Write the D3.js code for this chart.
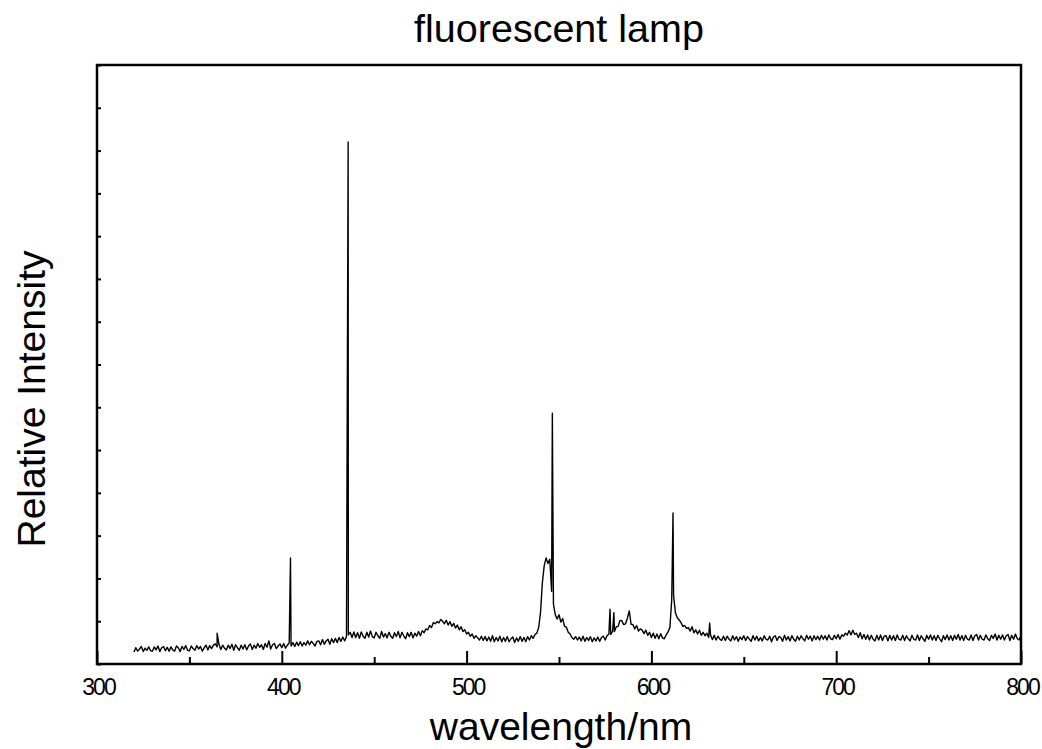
<!DOCTYPE html>
<html>
<head>
<meta charset="utf-8">
<script src="https://cdn.jsdelivr.net/npm/d3@7"></script>
<style>
  body { margin: 0; background: #fff; }
  svg { display: block; font-family: "Liberation Sans", Arial, sans-serif; }
</style>
</head>
<body>
<svg id="chart" width="1042" height="749"></svg>
<script>
// Spectrum: one value per nm from 320 to 800 (arbitrary counts)
const baseStart = 320;
const baseline = [
  280, 380, 300, 350, 410, 290, 370, 320, 400, 310,   // 320
  300, 400, 330, 420, 290, 380, 410, 310, 390, 300,   // 330
  400, 330, 300, 420, 380, 290, 410, 340, 430, 320,   // 340
  310, 420, 360, 320, 430, 350, 410, 300, 380, 440,   // 350
  330, 430, 360, 440, 470, 400, 460, 340, 440, 370,   // 360
  330, 440, 360, 460, 320, 450, 380, 320, 440, 350,   // 370
  450, 330, 420, 470, 340, 440, 370, 480, 390, 450,   // 380
  340, 480, 390, 540, 350, 450, 480, 360, 420, 470,   // 390
  380, 480, 370, 440, 490, 420, 500, 410, 510, 430,   // 400
  520, 420, 500, 440, 540, 450, 530, 480, 420, 530,   // 410
  540, 450, 570, 460, 540, 580, 460, 590, 500, 600,   // 420
  500, 620, 530, 630, 540, 640, 680, 740, 620, 750,   // 430
  620, 730, 600, 750, 650, 600, 740, 630, 770, 640,   // 440
  610, 740, 660, 600, 760, 630, 710, 610, 740, 650,   // 450
  600, 730, 640, 760, 610, 740, 660, 590, 730, 640,   // 460
  740, 610, 720, 650, 760, 660, 780, 730, 820, 800,   // 470
  900, 850, 970, 940, 990, 960, 1040, 1000, 940, 1020, // 480
  910, 990, 880, 950, 840, 910, 800, 870, 760, 800,   // 490
  700, 740, 650, 700, 600, 660, 610, 560, 650, 550,   // 500
  640, 540, 630, 530, 660, 520, 620, 540, 650, 520,   // 510
  620, 530, 640, 520, 590, 630, 500, 610, 530, 640,   // 520
  530, 620, 520, 640, 560, 660, 600, 690, 720, 850,   // 530
  1200, 1900, 2300, 2480, 2350, 2450, 1700, 1400, 1150, 1050, // 540
  1150, 980, 1060, 880, 860, 740, 700, 620, 580, 640, // 550
  560, 630, 540, 650, 530, 620, 550, 640, 520, 610,   // 560
  540, 630, 530, 620, 650, 560, 660, 700, 690, 760,   // 570
  760, 870, 880, 1020, 1010, 920, 940, 1070, 1240, 930, // 580
  920, 820, 900, 770, 820, 790, 710, 790, 670, 740,   // 590
  620, 720, 600, 700, 590, 710, 610, 590, 680, 750,   // 600
  850, 1500, 1600, 1200, 1080, 1030, 970, 880, 900, 830, // 610
  850, 770, 870, 730, 800, 700, 790, 670, 740, 660,   // 620
  720, 620, 680, 570, 670, 560, 650, 580, 550, 650,   // 630
  550, 650, 580, 540, 660, 560, 640, 530, 630, 570,   // 640
  660, 550, 640, 580, 530, 660, 560, 650, 540, 620,   // 650
  540, 660, 580, 560, 650, 520, 630, 660, 550, 640,   // 660
  620, 530, 670, 560, 640, 540, 660, 580, 530, 650,   // 670
  560, 660, 590, 540, 670, 580, 650, 540, 660, 570,   // 680
  650, 560, 670, 580, 660, 560, 680, 590, 570, 670,   // 690
  590, 690, 580, 680, 650, 720, 680, 780, 680, 790,   // 700
  690, 720, 620, 730, 590, 690, 580, 680, 560, 670,   // 710
  580, 540, 670, 560, 680, 550, 650, 660, 540, 670,   // 720
  560, 660, 550, 680, 580, 560, 670, 550, 660, 590,   // 730
  540, 670, 580, 560, 680, 550, 660, 590, 530, 670,   // 740
  580, 680, 560, 660, 550, 670, 590, 520, 660, 570,   // 750
  680, 560, 660, 550, 670, 580, 690, 560, 660, 550,   // 760
  670, 580, 560, 680, 550, 660, 690, 560, 670, 580,   // 770
  560, 680, 590, 550, 670, 600, 700, 560, 670, 580,   // 780
  680, 560, 660, 690, 550, 670, 580, 700, 590, 560,   // 790
  660                                                 // 800
];

// Sharp emission lines (wavelength, peak counts)
const lineWavelengths = [365.0, 404.7, 435.9, 546.4, 577.6, 579.7, 611.7, 631.5];
const linePeaks = [720, 2480, 12200, 5860, 1280, 1200, 3530, 960];

const xTicks = [300, 400, 500, 600, 700, 800];
const xMinorTicks = [350, 450, 550, 650, 750];
const yTicks = d3.range(0, 14001, 1000);

const margin = { top: 65, right: 21, bottom: 85, left: 97 };
const svg = d3.select("#chart");
const width = 1042 - margin.left - margin.right;
const height = 749 - margin.top - margin.bottom;

const g = svg.append("g").attr("transform", `translate(${margin.left},${margin.top})`);

// Merge baseline points and line apexes
const points = baseline.map((v, i) => ({ w: baseStart + i, v: v }))
  .concat(lineWavelengths.map((w, i) => ({ w: w, v: linePeaks[i] })))
  .sort((a, b) => a.w - b.w);

// Scales
const x = d3.scaleLinear().domain([300, 800]).range([0, width]);
const y = d3.scaleLinear().domain([0, 14000]).range([height, 0]);

// Spectrum
g.append("path")
  .datum(points)
  .attr("fill", "none")
  .attr("stroke", "#000")
  .attr("stroke-width", 1.4)
  .attr("stroke-linejoin", "round")
  .attr("d", d3.line().x(d => x(d.w)).y(d => y(d.v)));

// Minor x ticks
g.append("g")
  .attr("transform", `translate(0,${height})`)
  .call(d3.axisBottom(x).tickValues(xMinorTicks).tickSize(-7).tickFormat(""))
  .call(a => a.select(".domain").remove())
  .call(a => a.selectAll("line").attr("stroke-width", 2));

// Major x ticks and labels
const xAxis = g.append("g")
  .attr("transform", `translate(0,${height})`)
  .call(d3.axisBottom(x).tickValues(xTicks).tickSize(-13).tickFormat(d3.format("d")));
xAxis.select(".domain").remove();
xAxis.selectAll("line").attr("stroke-width", 2);
xAxis.selectAll("text")
  .attr("y", 31)
  .attr("dy", 0)
  .attr("x", 1)
  .attr("fill", "#000")
  .style("font-family", "'Liberation Sans', Arial, sans-serif")
  .style("font-size", "23px")
  .style("letter-spacing", "-2px");

// Y ticks, no labels
g.append("g")
  .call(d3.axisLeft(y).tickValues(yTicks).tickSize(-4).tickFormat(""))
  .call(a => a.select(".domain").remove())
  .call(a => a.selectAll("line").attr("stroke-width", 2));

// Frame
g.append("rect")
  .attr("width", width)
  .attr("height", height)
  .attr("fill", "none")
  .attr("stroke", "#000")
  .attr("stroke-width", 2.5);

// Title and axis labels
svg.append("text")
  .attr("x", margin.left + width / 2)
  .attr("y", 42)
  .attr("text-anchor", "middle")
  .attr("font-size", 39.5)
  .text("fluorescent lamp");

svg.append("text")
  .attr("x", margin.left + width / 2 + 2)
  .attr("y", 740)
  .attr("text-anchor", "middle")
  .attr("font-size", 39)
  .text("wavelength/nm");

svg.append("text")
  .attr("transform", "translate(45,399) rotate(-90)")
  .attr("text-anchor", "middle")
  .attr("font-size", 39)
  .text("Relative Intensity");
</script>
</body>
</html>
